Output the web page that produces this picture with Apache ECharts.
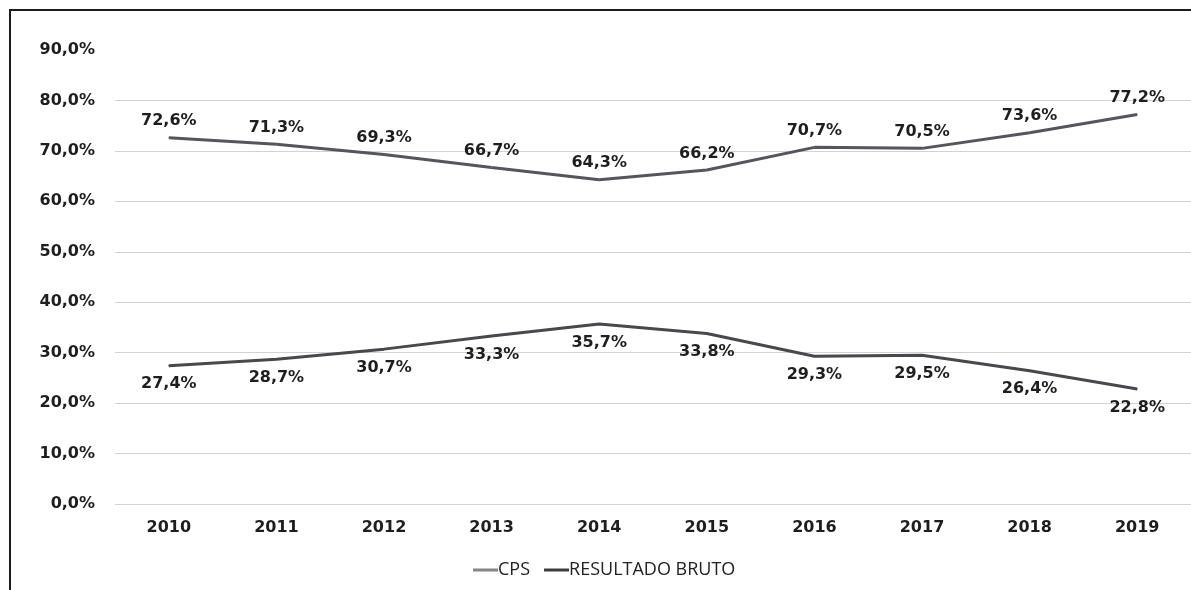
<!DOCTYPE html>
<html>
<head>
<meta charset="utf-8">
<script src="https://cdn.jsdelivr.net/npm/echarts@6/dist/echarts.min.js"></script>
<style>
  html, body { margin: 0; padding: 0; background: #fff; }
  #container { position: absolute; left: 0; top: 0; width: 1191px; height: 590px; }
  #frame {
    position: absolute; left: 9px; top: 9px; width: 1200px; height: 600px;
    border-left: 2px solid #1c1c1c; border-top: 2px solid #1c1c1c;
    pointer-events: none;
  }
</style>
</head>
<body>
<div id="container"></div>
<div id="frame"></div>
<script>
const years = ["2010", "2011", "2012", "2013", "2014", "2015", "2016", "2017", "2018", "2019"];
const cps = [72.6, 71.3, 69.3, 66.7, 64.3, 66.2, 70.7, 70.5, 73.6, 77.2];
const resultadoBruto = [27.4, 28.7, 30.7, 33.3, 35.7, 33.8, 29.3, 29.5, 26.4, 22.8];

function pct(v) {
  return v.toFixed(1).replace(".", ",") + "%";
}

const chart = echarts.init(document.getElementById("container"));

const labelFont = {
  fontFamily: "DejaVu Sans",
  fontWeight: "bold",
  fontSize: 16,
  color: "#1e1e1e",
};

const option = {
  animation: false,
  backgroundColor: "#fff",
  grid: { left: 115, right: 0, top: 50, bottom: 86 },
  legend: {
    bottom: 6,
    left: 468,
    itemWidth: 25,
    itemHeight: 3,
    itemGap: 14,
    icon: "rect",
    textStyle: { fontFamily: "Open Sans", fontSize: 18, color: "#222", padding: [0, 0, 0, -5] },
    data: ["CPS", "RESULTADO BRUTO"],
  },
  xAxis: {
    type: "category",
    data: years,
    axisLine: { show: false },
    axisTick: { show: false },
    axisLabel: { margin: 16, ...labelFont },
  },
  yAxis: {
    type: "value",
    min: 0,
    max: 90,
    interval: 10,
    axisLine: { show: false },
    axisTick: { show: false },
    axisLabel: { margin: 20, formatter: pct, ...labelFont },
    splitLine: {
      lineStyle: {
        color: ["#d2d2d2", "#d2d2d2", "#d2d2d2", "#d2d2d2", "#d2d2d2",
                "#d2d2d2", "#d2d2d2", "#d2d2d2", "#d2d2d2", "rgba(0,0,0,0)"],
        width: 1,
      },
    },
  },
  series: [
    {
      name: "CPS",
      type: "line",
      data: cps,
      symbol: "circle",
      symbolSize: 1,
      lineStyle: { color: "#55555e", width: 3 },
      itemStyle: { color: "#85858a" },
      label: {
        show: true,
        position: "top",
        distance: 8,
        formatter: (p) => pct(p.value),
        ...labelFont,
      },
    },
    {
      name: "RESULTADO BRUTO",
      type: "line",
      data: resultadoBruto,
      symbol: "circle",
      symbolSize: 1,
      lineStyle: { color: "#48484e", width: 3 },
      itemStyle: { color: "#3c3c40" },
      label: {
        show: true,
        position: "bottom",
        distance: 10,
        formatter: (p) => pct(p.value),
        ...labelFont,
      },
    },
  ],
};

chart.setOption(option);
</script>
</body>
</html>
